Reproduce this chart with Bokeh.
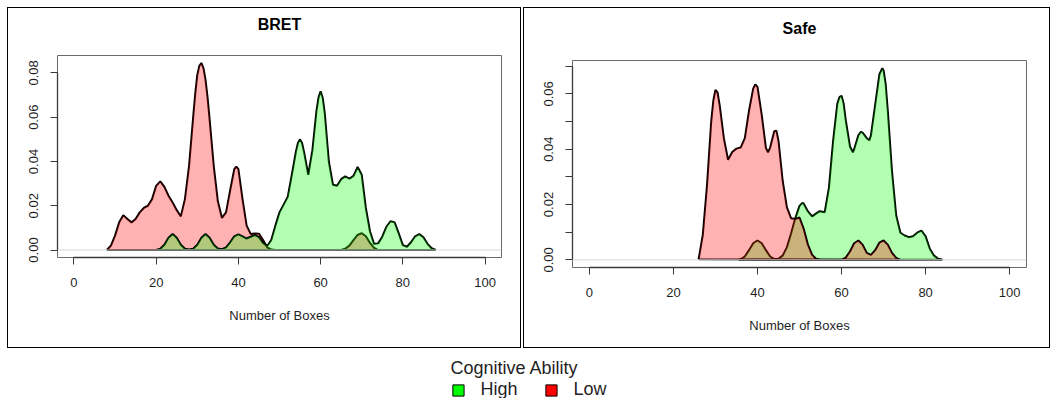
from bokeh.plotting import figure
from bokeh.models import (Range1d, FixedTicker, NumeralTickFormatter, Span, Legend, LegendItem,
                          Row, Column, Spacer, InlineStyleSheet, LinearAxis)
from bokeh.embed import file_html
from bokeh.resources import INLINE

FONT = "Liberation Sans"
NAN = float("nan")

# ---------------- data (density estimates) ----------------
x_limits = [0, 100]
x_ticks = [0, 20, 40, 60, 80, 100]

# BRET panel
bret_low_x = [8, 9, 10, 11, 12, 13, 14, 15, 16, 17, 18, 19, 20, 21, 22, 23, 24, 25, 26, 27,
              28, 29, 29.5, 30, 30.5, 31, 31.5, 32, 32.5, 33, 34, 35, 36, 37, 38, 39, 39.5, 40,
              41, 42, 43, 44, 45, 46, 47, 48, 49, 65, 66, 67, 68, 69, 70, 71, 72, 73, 74]
bret_low_y = [0.0000, 0.0020, 0.0065, 0.0125, 0.0157, 0.0140, 0.0125, 0.0140, 0.0170, 0.0190,
              0.0200, 0.0230, 0.0290, 0.0310, 0.0285, 0.0245, 0.0215, 0.0180, 0.0152, 0.0230,
              0.0380, 0.0600, 0.0705, 0.0790, 0.0832, 0.0845, 0.0822, 0.0770, 0.0690, 0.0590,
              0.0380, 0.0220, 0.0145, 0.0170, 0.0270, 0.0365, 0.0377, 0.0365, 0.0230, 0.0110,
              0.0072, 0.0075, 0.0074, 0.0045, 0.0012, 0.0002, 0.0000, 0.0000, 0.0006, 0.0020,
              0.0045, 0.0068, 0.0076, 0.0062, 0.0032, 0.0010, 0.0000]

bret_high_x = [20, 21, 22, 23, 24, 25, 26, 27, 28, 29, 30, 31, 32, 33, 34, 35, 36, 37, 38, 39,
               40, 41, 42, 43, 44, 45, 46, 47, 48, 49, 50, 51, 52, 53, 54, 54.5, 55, 55.5, 56, 57,
               58, 59, 59.5, 60, 60.5, 61, 62, 63, 64, 65, 66, 67, 68, 69, 70, 71, 72, 73, 74, 75,
               76, 77, 78, 79, 80, 81, 82, 83, 84, 85, 86, 87, 88]
bret_high_y = [0.0000, 0.0006, 0.0024, 0.0055, 0.0072, 0.0055, 0.0024, 0.0006, 0.0002, 0.0006,
               0.0024, 0.0055, 0.0072, 0.0055, 0.0024, 0.0007, 0.0004, 0.0012, 0.0035, 0.0062,
               0.0071, 0.0062, 0.0052, 0.0060, 0.0068, 0.0058, 0.0032, 0.0018, 0.0045, 0.0110,
               0.0170, 0.0205, 0.0240, 0.0340, 0.0445, 0.0485, 0.0500, 0.0482, 0.0440, 0.0340,
               0.0450, 0.0630, 0.0690, 0.0717, 0.0688, 0.0620, 0.0400, 0.0295, 0.0290, 0.0320,
               0.0333, 0.0322, 0.0335, 0.0375, 0.0340, 0.0190, 0.0085, 0.0028, 0.0030, 0.0060,
               0.0105, 0.0130, 0.0125, 0.0075, 0.0022, 0.0015, 0.0035, 0.0062, 0.0072, 0.0058,
               0.0028, 0.0008, 0.0000]

# Safe panel
safe_low_x = [26, 27, 28, 29, 29.5, 30, 30.5, 31, 32, 33, 34, 35, 36, 37, 38, 39, 39.5, 40, 41,
              42, 42.5, 43, 44, 44.5, 45, 46, 47, 48, 49, 50, 51, 52, 53, 54, 55, 60, 61, 62, 63,
              64, 65, 66, 67, 68, 69, 70, 71, 72, 73, 74]
safe_low_y = [0.0002, 0.0090, 0.0270, 0.0500, 0.0575, 0.0614, 0.0605, 0.0560, 0.0440, 0.0362,
              0.0390, 0.0402, 0.0406, 0.0440, 0.0540, 0.0620, 0.0634, 0.0625, 0.0525, 0.0405,
              0.0389, 0.0405, 0.0465, 0.0467, 0.0430, 0.0285, 0.0190, 0.0150, 0.0148, 0.0153,
              0.0112, 0.0055, 0.0018, 0.0003, 0.0000, 0.0000, 0.0008, 0.0030, 0.0060, 0.0070,
              0.0055, 0.0025, 0.0018, 0.0035, 0.0062, 0.0070, 0.0055, 0.0025, 0.0007, 0.0000]

safe_high_x = [35.5, 36, 37, 38, 39, 40, 41, 42, 43, 44, 45, 46, 47, 48, 49, 50, 50.7, 51, 52, 53,
               54, 54.8, 56, 57, 58, 59, 59.5, 60, 60.5, 61, 62, 62.7, 63, 64, 64.6, 65, 66, 66.6,
               67, 68, 69, 69.7, 70, 70.5, 71, 72, 73, 74, 75, 76, 77, 78, 79, 80, 81, 82, 83, 84]
safe_high_y = [0.0000, 0.0002, 0.0012, 0.0035, 0.0060, 0.0070, 0.0060, 0.0035, 0.0012, 0.0003,
               0.0004, 0.0015, 0.0045, 0.0095, 0.0150, 0.0195, 0.0206, 0.0203, 0.0175, 0.0157,
               0.0168, 0.0176, 0.0172, 0.0260, 0.0430, 0.0565, 0.0588, 0.0593, 0.0565, 0.0505,
               0.0410, 0.0389, 0.0400, 0.0450, 0.0463, 0.0460, 0.0440, 0.0432, 0.0450, 0.0560,
               0.0670, 0.0693, 0.0685, 0.0635, 0.0540, 0.0320, 0.0160, 0.0098, 0.0088, 0.0082,
               0.0085, 0.0098, 0.0106, 0.0085, 0.0040, 0.0015, 0.0004, 0.0000]

legend_title = "Cognitive Ability"
groups = ["High", "Low"]
group_colors = {"High": "#00FF00", "Low": "#FF0000"}

bret_y_ticks = [0.00, 0.02, 0.04, 0.06, 0.08]
bret_y_minor = []
safe_y_ticks = [0.00, 0.02, 0.04, 0.06]
safe_y_minor = [0.01, 0.03, 0.05, 0.07]

TEXT = "#1f1f1f"
BOX_CSS = InlineStyleSheet(css=":host::after { content: ''; position: absolute; left: 0; top: 0; "
                               "right: 0; bottom: 0; border: 1px solid black; pointer-events: none; "
                               "z-index: 100; }")


def make_panel(title, curves, order, yticks, yminor, width, height, borders, title_gap):
    pad_x = 0.04 * (x_limits[1] - x_limits[0])
    ymax = max(max(curves[g][1]) for g in curves)
    p = figure(width=width, height=height, output_backend="svg", toolbar_location=None,
               x_range=Range1d(x_limits[0] - pad_x, x_limits[1] + pad_x),
               y_range=Range1d(-0.04 * ymax, 1.04 * ymax),
               min_border_left=borders[0], min_border_right=borders[1],
               min_border_top=borders[2], min_border_bottom=borders[3])
    p.stylesheets = [BOX_CSS]
    p.xgrid.visible = False
    p.ygrid.visible = False
    p.background_fill_color = "white"
    p.border_fill_color = "white"
    p.outline_line_color = "#6a6a6a"
    p.outline_line_width = 1

    p.add_layout(Span(location=0, dimension="width", line_color="#d6d6d6", line_width=1))

    for g in order:
        xs, ys = curves[g]
        p.line(list(xs) + [xs[0]], list(ys) + [ys[0]], line_color="black", line_width=2)
        p.patch(xs, ys, fill_color=group_colors[g], fill_alpha=0.3, line_color=None)

    xa = p.below[0]
    xa.ticker = FixedTicker(ticks=x_ticks)
    xa.bounds = (x_ticks[0], x_ticks[-1])
    xa.axis_label = "Number of Boxes"
    xa.axis_label_standoff = 18
    xa.major_label_standoff = 13

    ya = p.left[0]
    ya.ticker = FixedTicker(ticks=yticks, minor_ticks=yminor)
    ya.bounds = (0, max(yticks + yminor))
    ya.formatter = NumeralTickFormatter(format="0.00")
    ya.major_label_orientation = "vertical"
    ya.major_label_standoff = 12

    for ax in (xa, ya):
        ax.axis_line_color = "#3a3a3a"
        ax.axis_line_width = 1.3
        ax.major_tick_line_color = "#3a3a3a"
        ax.major_tick_out = 7
        ax.major_tick_in = 0
        ax.minor_tick_line_color = "#3a3a3a"
        ax.minor_tick_out = 7
        ax.minor_tick_in = 0
        ax.major_label_text_font = FONT
        ax.major_label_text_font_size = "13px"
        ax.major_label_text_color = TEXT
        ax.axis_label_text_font = FONT
        ax.axis_label_text_font_size = "13px"
        ax.axis_label_text_font_style = "normal"
        ax.axis_label_text_color = TEXT
    xa.minor_tick_line_color = None

    # main title drawn as the label of a bare axis above the plot area
    top = LinearAxis(ticker=FixedTicker(ticks=[]), axis_label=title,
                     axis_line_color=None, major_tick_line_color=None,
                     minor_tick_line_color=None, major_tick_out=0, major_tick_in=0,
                     minor_tick_out=0, minor_tick_in=0,
                     major_label_standoff=0, major_label_text_font_size="0px",
                     axis_label_standoff=title_gap, axis_label_text_font=FONT,
                     axis_label_text_font_size="16px", axis_label_text_font_style="bold",
                     axis_label_text_color="black")
    p.add_layout(top, "above")
    return p


p1 = make_panel("BRET", {"Low": (bret_low_x, bret_low_y), "High": (bret_high_x, bret_high_y)},
                ["Low", "High"], bret_y_ticks, bret_y_minor, 514, 341, (50, 20, 48, 91), 23)
p2 = make_panel("Safe", {"Low": (safe_low_x, safe_low_y), "High": (safe_high_x, safe_high_y)},
                ["High", "Low"], safe_y_ticks, safe_y_minor, 527, 341, (49, 24, 53, 81), 24)

# legend strip
pl = figure(width=1043, height=50, output_backend="svg", toolbar_location=None,
            x_range=Range1d(0, 1), y_range=Range1d(0, 1),
            min_border=0, x_axis_type=None, y_axis_type=None)
pl.xgrid.visible = False
pl.ygrid.visible = False
pl.outline_line_color = None
items = []
for g in groups:
    r = pl.quad(left=[NAN], right=[NAN], top=[NAN], bottom=[NAN], fill_color=group_colors[g],
                line_color="black", line_width=1)
    items.append(LegendItem(label=g, renderers=[r]))
leg = Legend(items=items, orientation="horizontal", location="top_center",
             title=legend_title, title_text_font=FONT, title_text_font_size="18px",
             title_text_font_style="normal", title_text_color=TEXT, title_standoff=0,
             label_text_font=FONT, label_text_font_size="18px", label_text_color=TEXT,
             glyph_width=14, glyph_height=14, label_standoff=16, spacing=26,
             padding=2, margin=10, border_line_color=None, background_fill_alpha=0)
pl.add_layout(leg, "center")

layout = Column(children=[
    Spacer(width=10, height=7),
    Row(children=[Spacer(width=7, height=10),
                  Column(children=[p1]),
                  Spacer(width=2, height=10),
                  Column(children=[p2])], spacing=0),
    Row(children=[Spacer(width=7, height=10), pl], spacing=0),
], spacing=0)

with open("out.html", "w") as f:
    f.write(file_html(layout, INLINE))
